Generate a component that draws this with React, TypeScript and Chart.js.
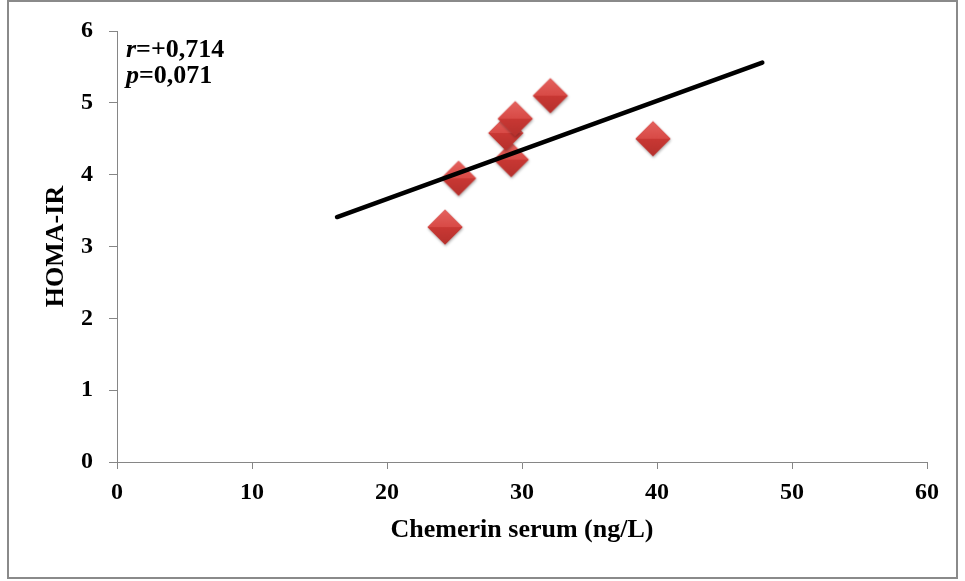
import React, { useEffect, useRef } from "react";
import { Chart, registerables } from "chart.js";

Chart.register(...registerables);

// Data
const chemerin = [24.3, 25.3, 29.2, 28.8, 29.5, 32.1, 39.7];
const homaIR = [3.27, 3.95, 4.21, 4.58, 4.78, 5.1, 4.5];
const trendX = [16.3, 47.8];
const trendY = [3.41, 5.56];
const statLines = [
  { italic: "r", rest: "=+0,714" },
  { italic: "p", rest: "=0,071" },
];
const xTitle = "Chemerin serum (ng/L)";
const yTitle = "HOMA-IR";

const FONT = "'Liberation Serif', 'Times New Roman', serif";

function makeDiamond(): HTMLCanvasElement {
  const c = document.createElement("canvas");
  const s = 44;
  c.width = s;
  c.height = s;
  const ctx = c.getContext("2d")!;
  const cx = s / 2;
  const cy = s / 2;
  const r = 17.5;
  // soft shadow
  ctx.save();
  ctx.shadowColor = "rgba(0,0,0,0.35)";
  ctx.shadowBlur = 3;
  ctx.shadowOffsetX = 0.5;
  ctx.shadowOffsetY = 1.5;
  ctx.beginPath();
  ctx.moveTo(cx, cy - r);
  ctx.lineTo(cx + r, cy);
  ctx.lineTo(cx, cy + r);
  ctx.lineTo(cx - r, cy);
  ctx.closePath();
  ctx.fillStyle = "#cf3d39";
  ctx.fill();
  ctx.restore();
  // top facet
  let g = ctx.createLinearGradient(0, cy - r, 0, cy);
  g.addColorStop(0, "#e4625e");
  g.addColorStop(1, "#d84a46");
  ctx.beginPath();
  ctx.moveTo(cx - r, cy);
  ctx.lineTo(cx, cy - r);
  ctx.lineTo(cx + r, cy);
  ctx.closePath();
  ctx.fillStyle = g;
  ctx.fill();
  // bottom facet
  g = ctx.createLinearGradient(0, cy, 0, cy + r);
  g.addColorStop(0, "#c93834");
  g.addColorStop(1, "#b5302c");
  ctx.beginPath();
  ctx.moveTo(cx - r, cy);
  ctx.lineTo(cx + r, cy);
  ctx.lineTo(cx, cy + r);
  ctx.closePath();
  ctx.fillStyle = g;
  ctx.fill();
  return c;
}

const statsPlugin = {
  id: "statsText",
  afterDraw(chart: any) {
    const ctx = chart.ctx;
    ctx.save();
    ctx.fillStyle = "#000";
    ctx.textBaseline = "alphabetic";
    ctx.textAlign = "left";
    const x0 = chart.chartArea.left + 9;
    const baselines = [chart.chartArea.top + 26, chart.chartArea.top + 52];
    statLines.forEach((ln, i) => {
      ctx.font = `italic bold 26px ${FONT}`;
      ctx.fillText(ln.italic, x0, baselines[i]);
      const w = ctx.measureText(ln.italic).width;
      ctx.font = `bold 26px ${FONT}`;
      ctx.fillText(ln.rest, x0 + w, baselines[i]);
    });
    ctx.restore();
  },
};

export default function App() {
  const ref = useRef<HTMLCanvasElement>(null);
  useEffect(() => {
    document.body.style.margin = "0";
    const diamond = makeDiamond();
    const axisColor = "#868686";
    const chart = new Chart(ref.current!, {
      type: "scatter",
      data: {
        datasets: [
          {
            type: "line",
            data: trendX.map((x, i) => ({ x, y: trendY[i] })),
            borderColor: "#000",
            borderWidth: 4.5,
            borderCapStyle: "round",
            pointRadius: 0,
            fill: false,
            order: 0,
          } as any,
          {
            data: chemerin.map((x, i) => ({ x, y: homaIR[i] })),
            pointStyle: diamond as any,
            pointRadius: 18,
            order: 1,
          },
        ],
      },
      plugins: [statsPlugin],
      options: {
        animation: false,
        responsive: false,
        events: [],
        layout: { padding: { top: 31, right: 38, bottom: 0, left: 0 } },
        plugins: { legend: { display: false }, tooltip: { enabled: false } },
        scales: {
          x: {
            type: "linear",
            min: 0,
            max: 60,
            afterFit: (s: any) => {
              s.height = 119;
            },
            ticks: {
              stepSize: 10,
              color: "#000",
              padding: 9,
              font: { family: FONT, size: 24, weight: "bold", lineHeight: 1.2 },
              maxRotation: 0,
            },
            grid: { drawOnChartArea: false, drawTicks: true, tickLength: 7, color: axisColor },
            border: { color: axisColor, width: 1 },
            title: {
              display: true,
              text: xTitle,
              color: "#000",
              font: { family: FONT, size: 26, weight: "bold", lineHeight: 1.2 },
              padding: { top: 0, bottom: 35 },
            },
          },
          y: {
            type: "linear",
            min: 0,
            max: 6,
            afterFit: (s: any) => {
              s.width = 117;
            },
            ticks: {
              stepSize: 1,
              color: "#000",
              padding: 16,
              font: { family: FONT, size: 24, weight: "bold", lineHeight: 1.2 },
            },
            grid: { drawOnChartArea: false, drawTicks: true, tickLength: 8, color: axisColor },
            border: { color: axisColor, width: 1 },
            title: {
              display: true,
              text: yTitle,
              color: "#000",
              font: { family: FONT, size: 26, weight: "bold", lineHeight: 1.2 },
              padding: { top: 41, bottom: 0 },
            },
          },
        },
      },
    });
    return () => chart.destroy();
  }, []);
  return (
    <div style={{ position: "relative", width: 965, height: 581, background: "#fff" }}>
      <canvas
        ref={ref}
        width={965}
        height={581}
        style={{ position: "absolute", left: 0, top: 0, width: 965, height: 581 }}
      />
      <div
        style={{
          position: "absolute",
          left: 7,
          top: 0,
          width: 951,
          height: 579,
          border: "2px solid #8a8a8a",
          boxSizing: "border-box",
          pointerEvents: "none",
        }}
      />
    </div>
  );
}
